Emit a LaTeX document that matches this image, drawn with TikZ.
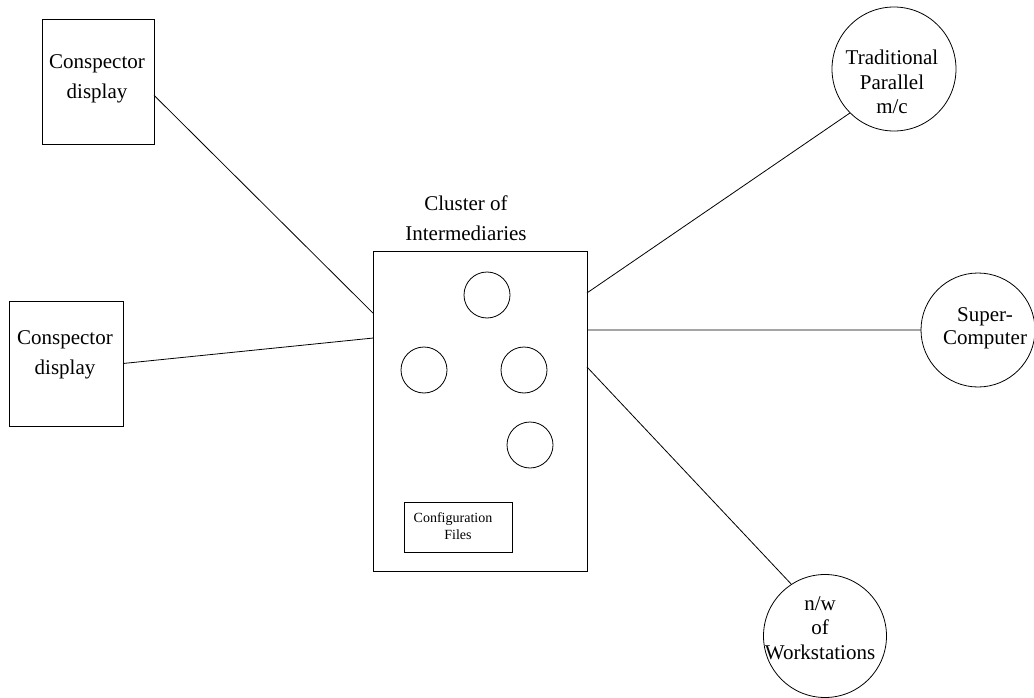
\documentclass[tikz,border=0pt]{standalone}
\usepackage{fontspec}
\setmainfont{Liberation Serif}
\usetikzlibrary{calc}
\begin{document}
\begin{tikzpicture}[x=1pt,y=-1pt,
  every node/.style={inner sep=0pt,outer sep=0pt},
  boxnode/.style={draw,line width=0.8pt,rectangle},
  ringnode/.style={draw,line width=0.8pt,circle},
  lbl/.style={align=center,font=\fontsize{21}{30}\selectfont},
  clbl/.style={align=center,font=\fontsize{21}{24.5}\selectfont},
  conn/.style={line width=0.8pt}]
\useasboundingbox (0,0) rectangle (1034,698);
% left boxes
\node[boxnode,minimum width=112pt,minimum height=125pt] (b1) at (98,81.5) {};
\node[lbl] (t1) at (97,79) {Conspector\\display};
\node[boxnode,minimum width=114pt,minimum height=125pt] (b2) at (66,363.5) {};
\node[lbl] (t2) at (65,355) {Conspector\\display};
% cluster
\node[boxnode,minimum width=214pt,minimum height=320pt] (cl) at (480,411) {};
\node[lbl] (tcl) at (466,218) {Cluster of\\Intermediaries};
\node[ringnode,minimum size=46pt] (i1) at (487,295) {};
\node[ringnode,minimum size=46pt] (i2) at (424,370) {};
\node[ringnode,minimum size=46pt] (i3) at (524,370) {};
\node[ringnode,minimum size=46pt] (i4) at (530,445) {};
\node[boxnode,minimum width=108pt,minimum height=50pt] (cf) at (458,527) {};
\node[align=center,font=\fontsize{14}{17}\selectfont] (tcf) at (453,526) {Configuration\\\hspace*{10pt}Files};
% right circles
\node[ringnode,minimum size=124pt] (tp) at (894,69) {};
\node[clbl] (ttp) at (892,82) {Traditional\\Parallel\\m/c};
\node[ringnode,minimum size=114pt] (sc) at (978,330) {};
\node[clbl,font=\fontsize{21}{23}\selectfont] (tsc) at (985,328) {Super-\\Computer};
\node[ringnode,minimum size=123pt] (ws) at (825,636) {};
\node[clbl] (tws) at (820,628) {n/w\\of\\Workstations};
% connectors
\draw[conn] ($(b1.north east)!0.61!(b1.south east)$) -- ($(cl.north west)!0.194!(cl.south west)$);
\draw[conn] (b2.east) -- ($(cl.north west)!0.272!(cl.south west)$);
\draw[conn] ($(cl.north east)!0.131!(cl.south east)$) -- (tp.225);
\draw[conn] ($(cl.north east)!0.247!(cl.south east)$) -- (sc.west);
\draw[conn] ($(cl.north east)!0.3625!(cl.south east)$) -- (ws.123);
\end{tikzpicture}
\end{document}
